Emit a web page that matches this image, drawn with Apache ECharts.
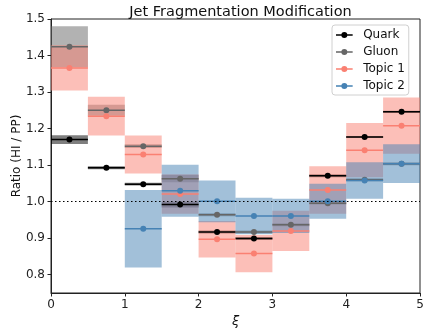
<!DOCTYPE html>
<html><head><meta charset="utf-8">
<script src="https://cdn.jsdelivr.net/npm/echarts@6/dist/echarts.min.js"></script>
<style>html,body{margin:0;padding:0;background:#fff}#c{width:423px;height:330px}</style>
</head><body><div id="c"></div>
<script>
// ---- data ----
const binEdges = [0, 0.5, 1, 1.5, 2, 2.5, 3, 3.5, 4, 4.5, 5];
const seriesNames = ['Quark', 'Gluon', 'Topic 1', 'Topic 2'];
const quark     = [1.170, 1.093, 1.048, 0.992, 0.917, 0.899, null, 1.071, 1.177, 1.246];
const quarkErr  = [0.012, 0.004, 0.004, 0.008, 0.004, 0.004, null, 0.004, 0.003, 0.003];
const gluon     = [1.424, 1.250, 1.152, 1.063, 0.964, 0.917, 0.937, 0.996, 1.060, 1.104];
const gluonErr  = [0.056, 0.015, 0.005, 0.010, 0.004, 0.004, 0.004, 0.004, 0.004, 0.004];
const topic1    = [1.366, 1.234, 1.129, 1.021, 0.897, 0.858, 0.920, 1.032, 1.141, 1.208];
const topic1Err = [0.062, 0.053, 0.052, 0.054, 0.050, 0.051, 0.055, 0.065, 0.074, 0.077];
const topic2    = [null, null, 0.926, 1.030, 1.001, 0.961, 0.961, 1.001, 1.058, 1.104];
const topic2Err = [null, null, 0.106, 0.071, 0.057, 0.050, 0.047, 0.048, 0.050, 0.053];
const xTicks = [0, 1, 2, 3, 4, 5];
const yTicks = [0.8, 0.9, 1.0, 1.1, 1.2, 1.3, 1.4, 1.5];
const refLine = 1.0;

// ---- styles ----
const colors = ['#000000', '#666666', '#fa8072', '#4682b4'];
const bandColors = ['rgba(0,0,0,0.5)', 'rgba(102,102,102,0.5)', 'rgba(250,128,114,0.5)', 'rgba(70,130,180,0.5)'];
const values = [quark, gluon, topic1, topic2];
const errs = [quarkErr, gluonErr, topic1Err, topic2Err];
const iconPath = 'path://M0,2.25 L15,2.25 L15,3.75 L0,3.75 Z M10.2,3 A2.7,2.7 0 1 1 4.8,3 A2.7,2.7 0 1 1 10.2,3 Z';
const FONT = 'DejaVu Sans';
const AX = '#222';

function bandData(v, e) {
  const out = [];
  v.forEach((y, i) => { if (y != null) out.push([binEdges[i], binEdges[i + 1], y - e[i], y + e[i]]); });
  return out;
}
function barData(v) {
  const out = [];
  v.forEach((y, i) => { if (y != null) out.push([binEdges[i], binEdges[i + 1], y]); });
  return out;
}

const series = [];
seriesNames.forEach((n, k) => {
  series.push({
    type: 'custom', name: n + ' band', z: 1, clip: true,
    data: bandData(values[k], errs[k]),
    encode: { x: [0, 1], y: [2, 3] },
    renderItem: (params, api) => {
      const p0 = api.coord([api.value(0), api.value(3)]);
      const p1 = api.coord([api.value(1), api.value(2)]);
      return { type: 'rect', shape: { x: p0[0], y: p0[1], width: p1[0] - p0[0], height: p1[1] - p0[1] },
               style: { fill: bandColors[k] } };
    }
  });
});
series.push({
  type: 'line', name: 'ref', z: 2, data: [], silent: true,
  markLine: { symbol: 'none', silent: true, label: { show: false }, animation: false,
    lineStyle: { color: '#000', width: 1.2, type: [1.5, 2.5] }, data: [{ yAxis: refLine }] }
});
seriesNames.forEach((n, k) => {
  series.push({
    type: 'custom', name: n, z: 3, clip: true,
    itemStyle: { color: colors[k] },
    data: barData(values[k]),
    encode: { x: [0, 1], y: 2 },
    renderItem: (params, api) => {
      const a = api.coord([api.value(0), api.value(2)]);
      const b = api.coord([api.value(1), api.value(2)]);
      const c = api.coord([(api.value(0) + api.value(1)) / 2, api.value(2)]);
      return { type: 'group', children: [
        { type: 'line', shape: { x1: a[0], y1: a[1], x2: b[0], y2: b[1] }, style: { stroke: colors[k], lineWidth: 1.5 } },
        { type: 'circle', shape: { cx: c[0], cy: c[1], r: 3 }, style: { fill: colors[k] } }
      ] };
    }
  });
});

const chart = echarts.init(document.getElementById('c'), null, { renderer: 'canvas' });
chart.setOption({
  animation: false,
  backgroundColor: '#fff',
  title: {
    text: 'Jet Fragmentation Modification', left: 235.5, top: 0, textAlign: 'center',
    textStyle: { fontFamily: FONT, fontSize: 14.5, fontWeight: 'normal', color: '#111' }
  },
  grid: { left: 51, top: 19, width: 369, height: 274, show: true, borderColor: AX, borderWidth: 1,
          backgroundColor: 'transparent', outerBoundsMode: 'none', containLabel: false },
  legend: {
    orient: 'vertical', left: 332, top: 25,
    data: seriesNames.map((n, i) => ({ name: n, icon: iconPath, itemStyle: { color: colors[i] } })),
    itemWidth: 27.6, itemHeight: 6, itemGap: 5,
    padding: [4, 4, 3, 4],
    backgroundColor: 'rgba(255,255,255,0.8)', borderColor: '#d0d0d0', borderWidth: 1, borderRadius: 3,
    textStyle: { fontFamily: FONT, fontSize: 12, color: '#111', lineHeight: 12 }
  },
  xAxis: {
    type: 'value', min: xTicks[0], max: xTicks[xTicks.length - 1], interval: 1,
    name: 'ξ', nameLocation: 'middle', nameGap: 22, nameMoveOverlap: false,
    nameTextStyle: { fontFamily: FONT, fontSize: 13, fontStyle: 'italic', color: '#111' },
    axisLine: { show: true, lineStyle: { color: AX, width: 1 } },
    axisTick: { show: true, inside: false, length: 3.5, lineStyle: { color: AX } },
    axisLabel: { fontFamily: FONT, fontSize: 12, color: '#222', margin: 6 },
    splitLine: { show: false }
  },
  yAxis: {
    type: 'value', min: 0.75, max: yTicks[yTicks.length - 1],
    name: 'Ratio (HI / PP)', nameLocation: 'middle', nameGap: 28, nameMoveOverlap: false,
    nameTextStyle: { fontFamily: FONT, fontSize: 12, color: '#111' },
    axisLine: { show: true, lineStyle: { color: AX, width: 1 } },
    axisTick: { show: true, inside: false, length: 3.5, lineStyle: { color: AX }, customValues: yTicks },
    axisLabel: { fontFamily: FONT, fontSize: 12, color: '#222', margin: 6, customValues: yTicks,
                 formatter: v => v.toFixed(1) },
    splitLine: { show: false }
  },
  series: series
});
</script></body></html>
